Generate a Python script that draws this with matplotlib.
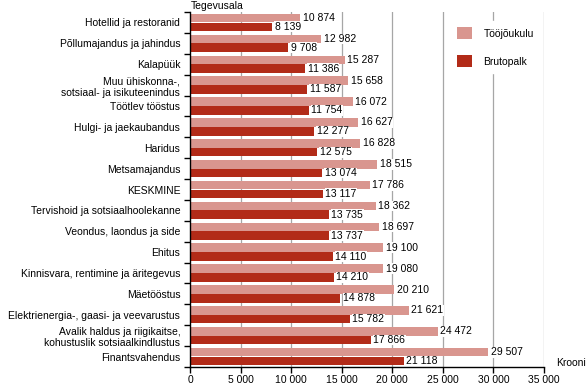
import numpy as np
import matplotlib
matplotlib.use("Agg")
import matplotlib.pyplot as plt
from matplotlib.patches import Patch

plt.rcParams["font.family"] = ["Liberation Sans", "DejaVu Sans"]
plt.rcParams["font.size"] = 7.5

# data, top to bottom
categories = [
    "Hotellid ja restoranid",
    "Põllumajandus ja jahindus",
    "Kalapüük",
    "Muu ühiskonna-,\nsotsiaal- ja isikuteenindus",
    "Töötlev tööstus",
    "Hulgi- ja jaekaubandus",
    "Haridus",
    "Metsamajandus",
    "KESKMINE",
    "Tervishoid ja sotsiaalhoolekanne",
    "Veondus, laondus ja side",
    "Ehitus",
    "Kinnisvara, rentimine ja äritegevus",
    "Mäetööstus",
    "Elektrienergia-, gaasi- ja veevarustus",
    "Avalik haldus ja riigikaitse,\nkohustuslik sotsiaalkindlustus",
    "Finantsvahendus",
]
toojoukulu = [10874, 12982, 15287, 15658, 16072, 16627, 16828, 18515, 17786,
              18362, 18697, 19100, 19080, 20210, 21621, 24472, 29507]
brutopalk = [8139, 9708, 11386, 11587, 11754, 12277, 12575, 13074, 13117,
             13735, 13737, 14110, 14210, 14878, 15782, 17866, 21118]
xticks = [0, 5000, 10000, 15000, 20000, 25000, 30000, 35000]

c_light = "#d9968f"
c_dark = "#b22b18"


def fmt(v):
    return "{:,}".format(v).replace(",", " ")


fig = plt.figure(figsize=(5.86, 3.84), dpi=100)
ax = fig.add_axes([190 / 586, 17 / 384, 354 / 586, 355 / 384])

y = np.arange(len(categories))
h = 0.41
ax.barh(y - 0.21, toojoukulu, height=h, color=c_light, zorder=2)
ax.barh(y + 0.21, brutopalk, height=h, color=c_dark, zorder=2)

for yi, v in zip(y, toojoukulu):
    ax.text(v + 250, yi - 0.21, fmt(v), va="center", ha="left", zorder=3,
            bbox=dict(facecolor="white", edgecolor="none", pad=0.3))
for yi, v in zip(y, brutopalk):
    ax.text(v + 250, yi + 0.21, fmt(v), va="center", ha="left", zorder=3,
            bbox=dict(facecolor="white", edgecolor="none", pad=0.3))

ax.set_xlim(0, 35000)
ax.set_ylim(len(categories) - 0.5, -0.5)
ax.set_xticks(xticks)
ax.set_xticklabels([fmt(v) for v in xticks])
ax.set_yticks(y)
ax.set_yticklabels(categories)
ax.set_yticks(np.arange(len(categories) + 1) - 0.5, minor=True)
ax.tick_params(axis="y", which="major", length=0, pad=7)
ax.tick_params(axis="y", which="minor", length=4, width=1, direction="out")
ax.tick_params(axis="x", length=4, width=1, direction="out", pad=1.5)

for gx in xticks[1:]:
    ax.axvline(gx, color="#a6a6a6", lw=0.9, zorder=1)

for s in ["top", "right"]:
    ax.spines[s].set_visible(False)
ax.spines["left"].set_linewidth(1)
ax.spines["bottom"].set_linewidth(1)

handles = [Patch(facecolor=c_light, label="Tööjõukulu"),
           Patch(facecolor=c_dark, label="Brutopalk")]
leg = fig.legend(handles=handles, loc="upper left",
                 bbox_to_anchor=(446 / 586, 1 - 16 / 384),
                 frameon=True, fancybox=False, edgecolor="white", framealpha=1,
                 handlelength=1.4, handleheight=1.4, labelspacing=1.5,
                 handletextpad=1.1, borderpad=0.6)

fig.text(191 / 586, 1 - 6 / 384, "Tegevusala", ha="left", va="center")
fig.text(586 / 586, 1 - 363 / 384, "Krooni", ha="right", va="center")

plt.savefig("out.png", dpi=100)
